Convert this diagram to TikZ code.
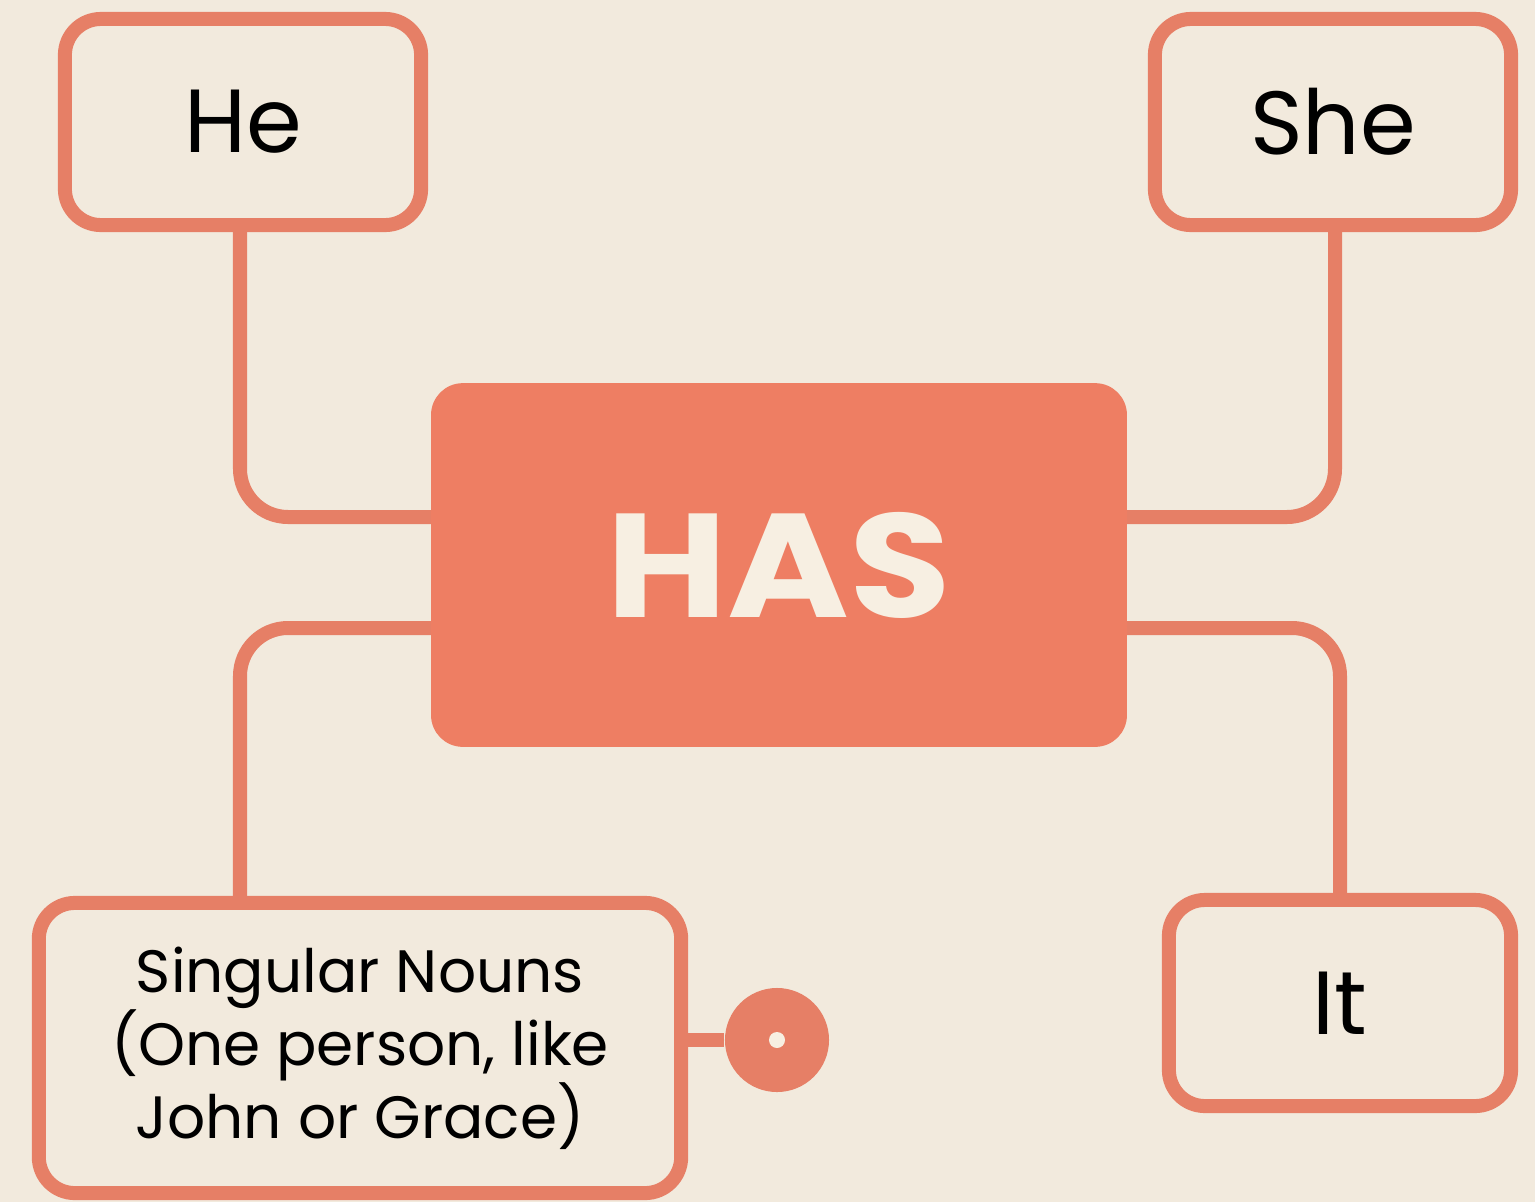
\documentclass[tikz,border=0pt]{standalone}
\usepackage{fontspec}
\setmainfont{Poppins}
\definecolor{bg}{HTML}{F2EADD}
\definecolor{salmon}{HTML}{E67F66}
\definecolor{hasfill}{HTML}{EE7E63}
\definecolor{cream}{HTML}{F7EFE2}
\tikzset{
  leaf/.style={draw=salmon, line width=0.14cm, rounded corners=0.36cm, fill=bg, align=center, inner sep=0pt, text=black},
  conn/.style={draw=salmon, line width=0.14cm, rounded corners=0.48cm},
  hub/.style={fill=hasfill, draw=hasfill, line width=1pt, rounded corners=0.3cm, text=cream, inner sep=0pt}
}
\begin{document}
\begin{tikzpicture}[x=0.01cm,y=-0.01cm]
\fill[bg] (0,0) rectangle (1535,1202);
\useasboundingbox (0,0) rectangle (1535,1202);
\coordinate (hl1) at (433,517);
\coordinate (hl2) at (433,628);
\coordinate (hr1) at (1125,517);
\coordinate (hr2) at (1125,628);
\node[leaf, minimum width=3.56cm, minimum height=2.06cm, font=\fontsize{25.5}{30}\selectfont] (He) at (243,122) {He};
\node[leaf, minimum width=3.56cm, minimum height=2.06cm, font=\fontsize{25.5}{30}\selectfont] (She) at (1333,122) {She};
\node[leaf, minimum width=3.42cm, minimum height=2.06cm, font=\fontsize{25.5}{30}\selectfont] (It) at (1340,1003) {It};
\node[leaf, minimum width=6.42cm, minimum height=2.9cm, font=\fontsize{17}{20.8}\selectfont] (Sing) at (360,1048) {Singular Nouns\\(One person, like\\John or Grace)};
\node[circle, fill=salmon, minimum size=1.04cm, inner sep=0pt] (dot) at (777,1040) {};
\fill[cream] (dot.center) circle (0.08cm);
\draw[conn] (He.south -| 240,0) |- (hl1);
\draw[conn] (She.south -| 1335,0) |- (hr1);
\draw[conn] (hl2) -| (Sing.north -| 240,0);
\draw[conn] (hr2) -| (It.north);
\draw[draw=salmon, line width=0.14cm] (dot.west -| Sing.east) -- (dot.west);
\node[hub, minimum width=6.92cm, minimum height=3.6cm, font=\fontsize{42}{48}\bfseries\selectfont] (HAS) at (779,565) {\scalebox{1.12}[1]{HAS}};
\end{tikzpicture}
\end{document}
